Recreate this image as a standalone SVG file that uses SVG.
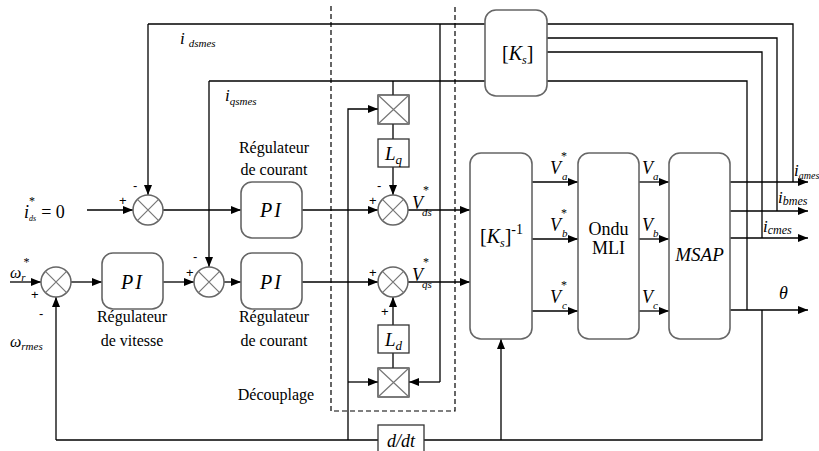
<svg xmlns="http://www.w3.org/2000/svg" width="819" height="451" viewBox="0 0 819 451" font-family="Liberation Serif, DejaVu Serif, serif">
<defs>
<marker id="arr" viewBox="0 0 10 8" refX="10" refY="4" markerWidth="10" markerHeight="8" markerUnits="userSpaceOnUse" orient="auto">
<path d="M0,0 L10,4 L0,8 z" fill="#000"/>
</marker>
</defs>
<style>
.ln{stroke:#000;stroke-width:1.3;fill:none}
.ar{stroke:#000;stroke-width:1.3;fill:none;marker-end:url(#arr)}
.blk{fill:#fff;stroke:#666;stroke-width:1.6}
.sq{fill:#fff;stroke:#333;stroke-width:1.3}
.x{stroke:#777;stroke-width:1.2}
.sum{fill:#fff;stroke:#666;stroke-width:1.5}
.dash{stroke:#000;stroke-width:1.2;stroke-dasharray:5,3;fill:none}
text{font-family:"Liberation Serif","DejaVu Serif",serif;fill:#000}
.t16{font-size:16px}
.it{font-style:italic}
.sg{font-size:13px;font-family:"Liberation Sans","DejaVu Sans",sans-serif}
.sub{font-size:11px;font-style:italic}
</style>
<rect width="819" height="451" fill="#fff"/>

<path class="dash" d="M331,6 V411 H455 V6"/>

<g id="connectors">
<path class="ln" d="M485,24 H148"/>
<path class="ar" d="M148,24 V195"/>
<path class="ln" d="M485,81 H209"/>
<path class="ar" d="M209,81 V267"/>
<path class="ln" d="M393,81 V95"/>
<path class="ln" d="M440,24 V382"/>
<path class="ar" d="M440,382 H409"/>
<path class="ln" d="M547,24 H793 V182"/>
<path class="ln" d="M547,38 H777 V211"/>
<path class="ln" d="M547,52 H762 V238"/>
<path class="ln" d="M547,81 H747 V310"/>
<path class="ar" d="M87,210 H133"/>
<path class="ar" d="M163,210 H241"/>
<path class="ar" d="M302,210 H378"/>
<path class="ar" d="M408,210 H470"/>
<path class="ar" d="M10,282 H41"/>
<path class="ar" d="M71,282 H102"/>
<path class="ar" d="M163,282 H194"/>
<path class="ar" d="M224,282 H241"/>
<path class="ar" d="M302,282 H378"/>
<path class="ar" d="M408,282 H470"/>
<path class="ln" d="M393,124 V139"/>
<path class="ar" d="M393,167 V195"/>
<path class="ln" d="M393,368 V353"/>
<path class="ar" d="M393,325 V297"/>
<path class="ar" d="M348,440 V109 H378"/>
<path class="ar" d="M348,382 H378"/>
<path class="ar" d="M532,182 H578"/>
<path class="ar" d="M532,239 H578"/>
<path class="ar" d="M532,311 H578"/>
<path class="ar" d="M639,182 H669"/>
<path class="ar" d="M639,239 H669"/>
<path class="ar" d="M639,311 H669"/>
<path class="ar" d="M730,182 H808"/>
<path class="ar" d="M730,211 H808"/>
<path class="ar" d="M730,238 H808"/>
<path class="ar" d="M730,310 H808"/>
<path class="ln" d="M762,310 V440 H424"/>
<path class="ar" d="M501,440 V339"/>
<path class="ln" d="M378,440 H56"/>
<path class="ar" d="M56,440 V297"/>
</g>

<g id="Ks">
<rect class="blk" x="485" y="10" width="62" height="86" rx="11"/>
<text x="502" y="60" font-size="20">[<tspan class="it">K</tspan><tspan font-size="12" class="it" dy="4">s</tspan><tspan dy="-4">]</tspan></text>
</g>

<g id="sum1">
<circle class="sum" cx="148" cy="210" r="15"/>
<path class="x" d="M137.4,199.4 L158.6,220.6 M158.6,199.4 L137.4,220.6"/>
</g>
<g id="sum2">
<circle class="sum" cx="56" cy="282" r="15"/>
<path class="x" d="M45.4,271.4 L66.6,292.6 M66.6,271.4 L45.4,292.6"/>
</g>
<g id="sum3">
<circle class="sum" cx="209" cy="282" r="15"/>
<path class="x" d="M198.4,271.4 L219.6,292.6 M219.6,271.4 L198.4,292.6"/>
</g>
<g id="sumVd">
<circle class="sum" cx="393" cy="210" r="15"/>
<path class="x" d="M382.4,199.4 L403.6,220.6 M403.6,199.4 L382.4,220.6"/>
</g>
<g id="sumVq">
<circle class="sum" cx="393" cy="282" r="15"/>
<path class="x" d="M382.4,271.4 L403.6,292.6 M403.6,271.4 L382.4,292.6"/>
</g>

<g id="PI_d">
<rect class="blk" x="241" y="182" width="61" height="56" rx="11"/>
<text x="271.5" y="217" font-size="20" class="it" text-anchor="middle" letter-spacing="2">PI</text>
</g>
<g id="PI_speed">
<rect class="blk" x="102" y="253" width="61" height="56" rx="11"/>
<text x="132.5" y="289" font-size="20" class="it" text-anchor="middle" letter-spacing="2">PI</text>
</g>
<g id="PI_q">
<rect class="blk" x="241" y="253" width="61" height="56" rx="11"/>
<text x="271.5" y="289" font-size="20" class="it" text-anchor="middle" letter-spacing="2">PI</text>
</g>

<g id="mult_top">
<rect class="sq" x="378" y="95" width="31" height="29"/>
<path class="x" d="M378,95 L409,124 M409,95 L378,124"/>
</g>
<g id="Lq">
<rect class="sq" x="378" y="139" width="31" height="28"/>
<text x="385" y="160" font-size="19" class="it">L<tspan font-size="13" dy="4">q</tspan></text>
</g>
<g id="Ld">
<rect class="sq" x="378" y="325" width="31" height="28"/>
<text x="385" y="346" font-size="19" class="it">L<tspan font-size="13" dy="4">d</tspan></text>
</g>
<g id="mult_bot">
<rect class="sq" x="378" y="368" width="31" height="29"/>
<path class="x" d="M378,368 L409,397 M409,368 L378,397"/>
</g>
<g id="ddt">
<rect class="sq" x="378" y="425" width="46" height="32"/>
<text x="401" y="447" font-size="18" class="it" text-anchor="middle">d/dt</text>
</g>

<g id="Ksinv">
<rect class="blk" x="470" y="153" width="62" height="186" rx="11"/>
<text x="480" y="243" font-size="20">[<tspan class="it">K</tspan><tspan font-size="12" class="it" dy="4">s</tspan><tspan dy="-4">]</tspan><tspan font-size="14" dy="-9">-1</tspan></text>
</g>
<g id="Ondu">
<rect class="blk" x="578" y="153" width="61" height="186" rx="11"/>
<text x="608.5" y="235" font-size="18" text-anchor="middle">Ondu</text>
<text x="608.5" y="254" font-size="18" text-anchor="middle">MLI</text>
</g>
<g id="MSAP">
<rect class="blk" x="669" y="153" width="61" height="186" rx="11"/>
<text x="699.5" y="261" font-size="19" class="it" text-anchor="middle">MSAP</text>
</g>

<g id="labels">
<text x="180" y="44" font-size="17" class="it">i<tspan class="sub" dx="4" dy="3">dsmes</tspan></text>
<text x="225" y="101" font-size="17" class="it">i<tspan class="sub" dy="4">qsmes</tspan></text>

<text x="274" y="153" class="t16" text-anchor="middle">Régulateur</text>
<text x="274" y="175" class="t16" text-anchor="middle">de courant</text>
<text x="274" y="322" class="t16" text-anchor="middle">Régulateur</text>
<text x="274" y="346" class="t16" text-anchor="middle">de courant</text>
<text x="132" y="322" class="t16" text-anchor="middle">Régulateur</text>
<text x="132" y="346" class="t16" text-anchor="middle">de vitesse</text>
<text x="276" y="400" class="t16" text-anchor="middle">Découplage</text>

<text x="24" y="218" font-size="18"><tspan class="it">i</tspan><tspan font-size="12" dy="-13">*</tspan><tspan font-size="8" class="it" dx="-6" dy="16">ds</tspan><tspan dx="5" dy="-3">= 0</tspan></text>

<text x="10" y="278" font-size="16" class="it">ω<tspan font-size="11" dy="3">r</tspan><tspan font-size="12" font-style="normal" dx="-2" dy="-15">*</tspan></text>
<text x="10" y="347" font-size="16" class="it">ω<tspan font-size="11" dy="3">rmes</tspan></text>

<text x="119" y="205" class="sg">+</text>
<text x="133" y="190" class="sg">-</text>
<text x="186" y="277" class="sg">+</text>
<text x="193" y="261" class="sg">-</text>
<text x="31" y="299" class="sg">+</text>
<text x="39" y="318" class="sg">-</text>
<text x="369" y="205" class="sg">+</text>
<text x="377" y="190" class="sg">-</text>
<text x="369" y="277" class="sg">+</text>
<text x="381" y="316" class="sg">+</text>

<text x="412" y="209" font-size="18"><tspan class="it">V</tspan><tspan font-size="12" dy="-15">*</tspan><tspan class="sub" dx="-7" dy="22">ds</tspan></text>
<text x="412" y="281" font-size="18"><tspan class="it">V</tspan><tspan font-size="12" dy="-15">*</tspan><tspan class="sub" dx="-7" dy="22">qs</tspan></text>

<text x="550" y="174" font-size="18"><tspan class="it">V</tspan><tspan font-size="12" dy="-14">*</tspan><tspan class="sub" dx="-5" dy="20">a</tspan></text>
<text x="550" y="231" font-size="18"><tspan class="it">V</tspan><tspan font-size="12" dy="-14">*</tspan><tspan class="sub" dx="-5" dy="20">b</tspan></text>
<text x="550" y="303" font-size="18"><tspan class="it">V</tspan><tspan font-size="12" dy="-14">*</tspan><tspan class="sub" dx="-5" dy="20">c</tspan></text>

<text x="642" y="174" font-size="18" class="it">V<tspan class="sub" dy="6">a</tspan></text>
<text x="642" y="231" font-size="18" class="it">V<tspan class="sub" dy="6">b</tspan></text>
<text x="642" y="303" font-size="18" class="it">V<tspan class="sub" dy="6">c</tspan></text>

<text x="794" y="176" font-size="17" class="it">i<tspan font-size="10" dy="3">ames</tspan></text>
<text x="778" y="203" font-size="17" class="it">i<tspan font-size="12" dy="2">bmes</tspan></text>
<text x="763" y="232" font-size="17" class="it">i<tspan font-size="12" dy="2">cmes</tspan></text>
<text x="779" y="299" font-size="18" class="it">θ</text>
</g>
</svg>
